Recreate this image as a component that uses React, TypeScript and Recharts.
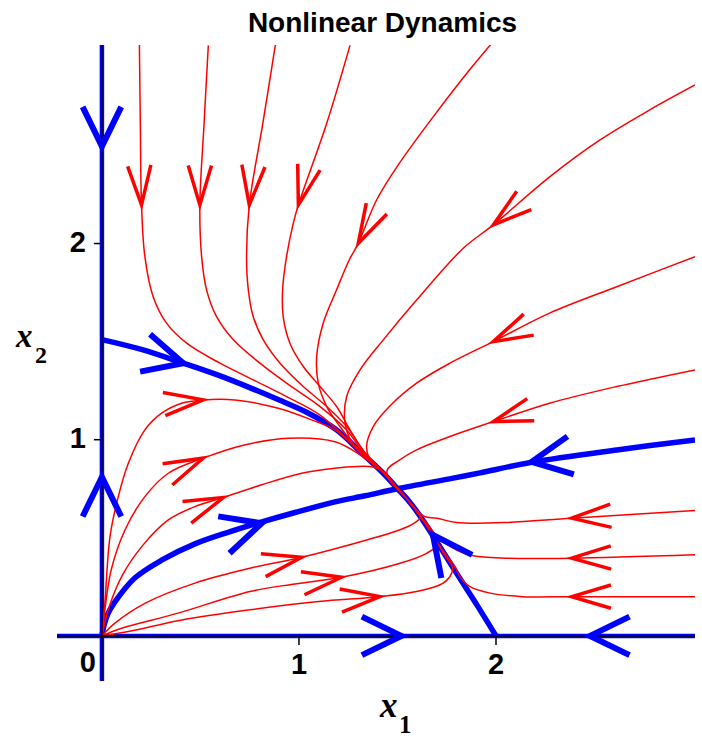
import React from 'react';
import { ComposedChart, Line, Scatter, XAxis, YAxis } from 'recharts';

type Pt = [number, number];

// Visible part of the (x1, x2) phase plane
const X_DOMAIN: [number, number] = [-0.228, 3.01];
const Y_DOMAIN: [number, number] = [-0.23, 3.012];

const xTicks = [1, 2];
const yTicks = [1, 2];
const originTick = [0];

// Invariant coordinate axes
const axisX1: Pt[] = [[-0.228, 0], [3.01, 0]];
const axisX2: Pt[] = [[0, -0.23], [0, 3.012]];

// Separatrices: unstable branches of the saddles and the strong manifold of the node
const fromSaddleX2: Pt[] = [
  [0, 1.51], [0.2, 1.46], [0.413, 1.39], [0.6, 1.325], [0.768, 1.258], [0.9, 1.202],
  [1.039, 1.14], [1.191, 1.05], [1.31, 0.94], [1.428, 0.829], [1.5, 0.75],
];
const fromSaddleX1: Pt[] = [
  [2.0, 0.0], [1.906, 0.153], [1.802, 0.316], [1.703, 0.474], [1.614, 0.612], [1.553, 0.693], [1.5, 0.75],
];
const strongManifold: Pt[] = [
  [0, 0], [0.01, 0.051], [0.03, 0.112], [0.066, 0.173], [0.168, 0.296], [0.305, 0.387],
  [0.472, 0.469], [0.64, 0.528], [0.812, 0.581], [0.98, 0.629], [1.183, 0.683], [1.335, 0.714],
  [1.5, 0.75], [1.783, 0.804], [1.919, 0.831], [2.181, 0.885], [2.613, 0.948], [3.01, 0.999],
];

// Sample trajectories
const trajectories: Pt[][] = [
  // entering from the top edge
  [[0.19, 3.03], [0.195, 2.6], [0.201, 2.197], [0.218, 1.933], [0.26, 1.729], [0.328, 1.594], [0.43, 1.492],
    [0.599, 1.39], [0.768, 1.305], [0.937, 1.22], [1.1, 1.13], [1.25, 1.0], [1.35, 0.91], [1.43, 0.83], [1.5, 0.75]],
  [[0.54, 3.01], [0.518, 2.604], [0.497, 2.197], [0.506, 1.933], [0.531, 1.764], [0.582, 1.627], [0.667, 1.509],
    [0.802, 1.39], [0.937, 1.288], [1.107, 1.169], [1.242, 1.05], [1.33, 0.93], [1.43, 0.83], [1.5, 0.75]],
  [[0.883, 3.03], [0.817, 2.615], [0.748, 2.197], [0.734, 1.933], [0.743, 1.764], [0.768, 1.627], [0.819, 1.509],
    [0.904, 1.39], [1.022, 1.271], [1.141, 1.169], [1.242, 1.067], [1.33, 0.94], [1.43, 0.83], [1.5, 0.75]],
  [[1.259, 3.01], [1.141, 2.613], [0.997, 2.197], [0.971, 2.103], [0.937, 1.933], [0.917, 1.764], [0.92, 1.627],
    [0.954, 1.492], [1.022, 1.373], [1.107, 1.271], [1.191, 1.169], [1.259, 1.05], [1.33, 0.94], [1.43, 0.83], [1.5, 0.75]],
  [[1.995, 3.04], [1.851, 2.867], [1.682, 2.647], [1.51, 2.41], [1.394, 2.222], [1.301, 2.001], [1.255, 1.916],
    [1.191, 1.764], [1.123, 1.594], [1.09, 1.424], [1.098, 1.288], [1.141, 1.169], [1.208, 1.067], [1.3, 0.95],
    [1.43, 0.83], [1.5, 0.75]],
  // entering from the right edge
  [[3.01, 2.808], [2.78, 2.681], [2.528, 2.528], [2.274, 2.341], [1.986, 2.095], [1.834, 1.976], [1.598, 1.713],
    [1.428, 1.509], [1.31, 1.356], [1.242, 1.22], [1.234, 1.084], [1.27, 0.985], [1.35, 0.905], [1.43, 0.83], [1.5, 0.75]],
  [[3.01, 1.933], [2.613, 1.78], [2.272, 1.645], [1.986, 1.5], [1.766, 1.39], [1.597, 1.288], [1.459, 1.169],
    [1.377, 1.067], [1.343, 0.965], [1.36, 0.9], [1.43, 0.83], [1.5, 0.75]],
  [[3.01, 1.356], [2.613, 1.271], [2.272, 1.186], [1.986, 1.092], [1.766, 1.016], [1.597, 0.948], [1.5, 0.89],
    [1.45, 0.85], [1.45, 0.81], [1.5, 0.75]],
  [[3.01, 0.639], [2.384, 0.6], [2.054, 0.578], [1.8, 0.578], [1.699, 0.6], [1.64, 0.607], [1.614, 0.625],
    [1.585, 0.655], [1.553, 0.693], [1.5, 0.75]],
  [[3.01, 0.413], [2.384, 0.396], [2.054, 0.396], [1.885, 0.408], [1.8, 0.438], [1.745, 0.47], [1.705, 0.5],
    [1.66, 0.56], [1.614, 0.612], [1.553, 0.693], [1.5, 0.75]],
  [[3.01, 0.2], [2.384, 0.2], [2.136, 0.2], [1.97, 0.218], [1.868, 0.251], [1.817, 0.302], [1.792, 0.353],
    [1.745, 0.415], [1.703, 0.474], [1.66, 0.545], [1.614, 0.612], [1.553, 0.693], [1.5, 0.75]],
  // leaving the origin
  [[0, 0], [0.015, 0.166], [0.041, 0.506], [0.083, 0.71], [0.134, 0.88], [0.218, 1.05], [0.303, 1.135],
    [0.404, 1.186], [0.514, 1.203], [0.675, 1.203], [0.895, 1.16], [1.064, 1.101], [1.183, 1.05], [1.31, 0.935],
    [1.43, 0.83], [1.5, 0.75]],
  [[0, 0], [0.007, 0.065], [0.047, 0.336], [0.117, 0.54], [0.218, 0.71], [0.337, 0.829], [0.514, 0.906],
    [0.723, 0.973], [0.946, 1.008], [1.183, 0.99], [1.31, 0.923], [1.43, 0.83], [1.5, 0.75]],
  [[0, 0], [0.032, 0.133], [0.1, 0.302], [0.202, 0.455], [0.337, 0.591], [0.472, 0.659], [0.616, 0.705],
    [0.811, 0.77], [1.014, 0.829], [1.183, 0.855], [1.36, 0.863], [1.428, 0.837], [1.5, 0.75]],
  [[0, 0], [0.066, 0.065], [0.218, 0.166], [0.472, 0.269], [0.751, 0.345], [1.014, 0.401], [1.344, 0.489],
    [1.51, 0.54], [1.585, 0.575], [1.617, 0.606], [1.587, 0.65], [1.553, 0.693], [1.5, 0.75]],
  [[0, 0], [0.1, 0.039], [0.387, 0.116], [0.751, 0.226], [0.98, 0.265], [1.216, 0.299], [1.513, 0.37],
    [1.648, 0.421], [1.7, 0.465], [1.66, 0.54], [1.614, 0.612], [1.553, 0.693], [1.5, 0.75]],
  [[0, 0], [0.134, 0.022], [0.4, 0.08], [0.751, 0.133], [1.1, 0.175], [1.411, 0.2], [1.597, 0.226],
    [1.732, 0.269], [1.775, 0.32], [1.778, 0.353], [1.74, 0.41], [1.703, 0.474], [1.66, 0.545], [1.614, 0.612],
    [1.553, 0.693], [1.5, 0.75]],
];

// Direction markers: position and heading (degrees, measured in the x1-x2 plane)
const blueArrows = [
  { x: 0, y: 2.495, h: -90 },
  { x: 0, y: 0.81, h: 90 },
  { x: 1.52, y: 0, h: 0 },
  { x: 2.477, y: 0, h: 180 },
  { x: 0.413, y: 1.39, h: -15 },
  { x: 0.811, y: 0.574, h: 17 },
  { x: 2.181, y: 0.887, h: 189.5 },
  { x: 1.68, y: 0.515, h: 127 },
];
const redArrows = [
  { x: 0.201, y: 2.197, h: -86.7 },
  { x: 0.497, y: 2.197, h: -90 },
  { x: 0.748, y: 2.197, h: -96 },
  { x: 0.997, y: 2.197, h: -105.5 },
  { x: 1.301, y: 2.001, h: -117.8 },
  { x: 1.986, y: 2.095, h: 218.5 },
  { x: 1.986, y: 1.5, h: 205.6 },
  { x: 1.986, y: 1.092, h: 197.6 },
  { x: 2.384, y: 0.6, h: 183.5 },
  { x: 2.384, y: 0.396, h: 181 },
  { x: 2.384, y: 0.2, h: 180 },
  { x: 0.514, y: 1.203, h: 6.1 },
  { x: 0.514, y: 0.906, h: 24.5 },
  { x: 0.616, y: 0.705, h: 22 },
  { x: 1.014, y: 0.401, h: 11.8 },
  { x: 1.216, y: 0.299, h: 8.8 },
  { x: 1.411, y: 0.2, h: 5.7 },
];

const toRows = (pts: Pt[]) => pts.map(([x, y]) => ({ x, y }));

const RED = '#ff0000';
const BLUE = '#0000ff';
const SANS = '"Liberation Sans", Arial, Helvetica, sans-serif';
const SERIF = '"Liberation Serif", "Times New Roman", serif';

// Centripetal Catmull-Rom curve (d3 curve interface), smooth through every sample
function centripetal(context: any) {
  let pts: Pt[] = [];
  const emit = () => {
    const n = pts.length;
    if (!n) return;
    context.moveTo(pts[0][0], pts[0][1]);
    if (n === 1) return;
    for (let i = 0; i < n - 1; i++) {
      const p0 = pts[i > 0 ? i - 1 : 0];
      const p1 = pts[i];
      const p2 = pts[i + 1];
      const p3 = pts[i + 2 < n ? i + 2 : n - 1];
      const d01 = Math.hypot(p1[0] - p0[0], p1[1] - p0[1]);
      const d12 = Math.hypot(p2[0] - p1[0], p2[1] - p1[1]);
      const d23 = Math.hypot(p3[0] - p2[0], p3[1] - p2[1]);
      const l01 = Math.sqrt(d01), l12 = Math.sqrt(d12), l23 = Math.sqrt(d23);
      let c1x = p1[0], c1y = p1[1], c2x = p2[0], c2y = p2[1];
      if (l01 > 1e-9) {
        const a = 2 * d01 + 3 * l01 * l12 + d12;
        const m = 3 * l01 * (l01 + l12);
        c1x = (p1[0] * a - p0[0] * d12 + p2[0] * d01) / m;
        c1y = (p1[1] * a - p0[1] * d12 + p2[1] * d01) / m;
      }
      if (l23 > 1e-9) {
        const b = 2 * d23 + 3 * l23 * l12 + d12;
        const m = 3 * l23 * (l23 + l12);
        c2x = (p2[0] * b + p1[0] * d23 - p3[0] * d12) / m;
        c2y = (p2[1] * b + p1[1] * d23 - p3[1] * d12) / m;
      }
      context.bezierCurveTo(c1x, c1y, c2x, c2y, p2[0], p2[1]);
    }
  };
  return {
    areaStart() {},
    areaEnd() {},
    lineStart() { pts = []; },
    lineEnd() { emit(); },
    point(x: number, y: number) { pts.push([+x, +y]); },
  };
}

function chevron(len: number, half: number, width: number, color: string) {
  return (props: any) => {
    const { cx, cy, payload } = props;
    if (cx == null || cy == null) return <g />;
    const back = ((payload.h + 180) * Math.PI) / 180;
    const a = (half * Math.PI) / 180;
    const p1x = cx + len * Math.cos(back + a);
    const p1y = cy - len * Math.sin(back + a);
    const p2x = cx + len * Math.cos(back - a);
    const p2y = cy - len * Math.sin(back - a);
    return (
      <path
        d={`M${p1x},${p1y}L${cx},${cy}L${p2x},${p2y}`}
        fill="none"
        stroke={color}
        strokeWidth={width}
        strokeLinejoin="miter"
        strokeMiterlimit={10}
      />
    );
  };
}

const XTick = (props: any) => {
  const { cx, cy, payload } = props;
  return (
    <g>
      <line x1={cx} y1={cy} x2={cx} y2={cy + 9} stroke="#000" strokeWidth={1.5} />
      <text x={cx} y={cy + 38} textAnchor="middle" fontFamily={SANS} fontWeight="bold" fontSize={29} fill="#000">
        {payload.label}
      </text>
    </g>
  );
};

const YTick = (props: any) => {
  const { cx, cy, payload } = props;
  return (
    <g>
      <line x1={cx - 8} y1={cy} x2={cx} y2={cy} stroke="#000" strokeWidth={1.5} />
      <text x={cx - 16} y={cy + 8} textAnchor="end" fontFamily={SANS} fontWeight="bold" fontSize={29} fill="#000">
        {payload.label}
      </text>
    </g>
  );
};

const OriginTick = (props: any) => {
  const { cx, cy, payload } = props;
  return (
    <text x={cx - 14} y={cy + 36} textAnchor="middle" fontFamily={SANS} fontWeight="bold" fontSize={29} fill="#000">
      {payload.label}
    </text>
  );
};

const lineProps = { dot: false, activeDot: false, isAnimationActive: false } as const;

export default function App() {
  const W = 702;
  const H = 738;
  return (
    <div style={{ position: 'absolute', left: 0, top: 0, width: W, height: H, background: '#fff' }}>
      <ComposedChart width={W} height={H} margin={{ top: 45, right: 7, bottom: 57, left: 57 }}>
        <XAxis type="number" dataKey="x" domain={X_DOMAIN} allowDataOverflow hide />
        <YAxis type="number" dataKey="y" domain={Y_DOMAIN} allowDataOverflow hide />

        <Line data={toRows(axisX1)} dataKey="y" type="linear" stroke={BLUE} strokeWidth={4.5} {...lineProps} />
        <Line data={toRows(axisX2)} dataKey="y" type="linear" stroke={BLUE} strokeWidth={4.5} {...lineProps} />
        <Line data={toRows(fromSaddleX2)} dataKey="y" type={centripetal as any} stroke={BLUE} strokeWidth={5.5} {...lineProps} />
        <Line data={toRows(fromSaddleX1)} dataKey="y" type={centripetal as any} stroke={BLUE} strokeWidth={5.5} {...lineProps} />
        <Line data={toRows(strongManifold)} dataKey="y" type={centripetal as any} stroke={BLUE} strokeWidth={5.5} {...lineProps} />

        {trajectories.map((t, i) => (
          <Line key={`t${i}`} data={toRows(t)} dataKey="y" type={centripetal as any} stroke={RED} strokeWidth={1.5} {...lineProps} />
        ))}

        <Line data={toRows(axisX1)} dataKey="y" type="linear" stroke="#000" strokeWidth={1.5} {...lineProps} />
        <Line data={toRows(axisX2)} dataKey="y" type="linear" stroke="#000" strokeWidth={1.5} {...lineProps} />

        <Scatter data={xTicks.map((v) => ({ x: v, y: 0, label: String(v) }))} shape={XTick} isAnimationActive={false} />
        <Scatter data={yTicks.map((v) => ({ x: 0, y: v, label: String(v) }))} shape={YTick} isAnimationActive={false} />
        <Scatter data={originTick.map((v) => ({ x: v, y: v, label: String(v) }))} shape={OriginTick} isAnimationActive={false} />

        <Scatter data={redArrows} shape={chevron(41, 16.5, 3.5, RED)} isAnimationActive={false} />
        <Scatter data={blueArrows} shape={chevron(44, 26, 6, BLUE)} isAnimationActive={false} />
      </ComposedChart>

      <svg width={W} height={H} style={{ position: 'absolute', left: 0, top: 0, pointerEvents: 'none' }}>
        <text x={382.5} y={32} textAnchor="middle" fontFamily={SANS} fontWeight="bold" fontSize={28} fill="#000">
          Nonlinear Dynamics
        </text>
        <text x={380} y={717} fontFamily={SERIF} fontStyle="italic" fontWeight="bold" fontSize={35} fill="#000">x</text>
        <text x={399} y={733} fontFamily={SERIF} fontWeight="bold" fontSize={25} fill="#000">1</text>
        <text x={16} y={347} fontFamily={SERIF} fontStyle="italic" fontWeight="bold" fontSize={33} fill="#000">x</text>
        <text x={35} y={363} fontFamily={SERIF} fontWeight="bold" fontSize={24} fill="#000">2</text>
      </svg>
    </div>
  );
}
